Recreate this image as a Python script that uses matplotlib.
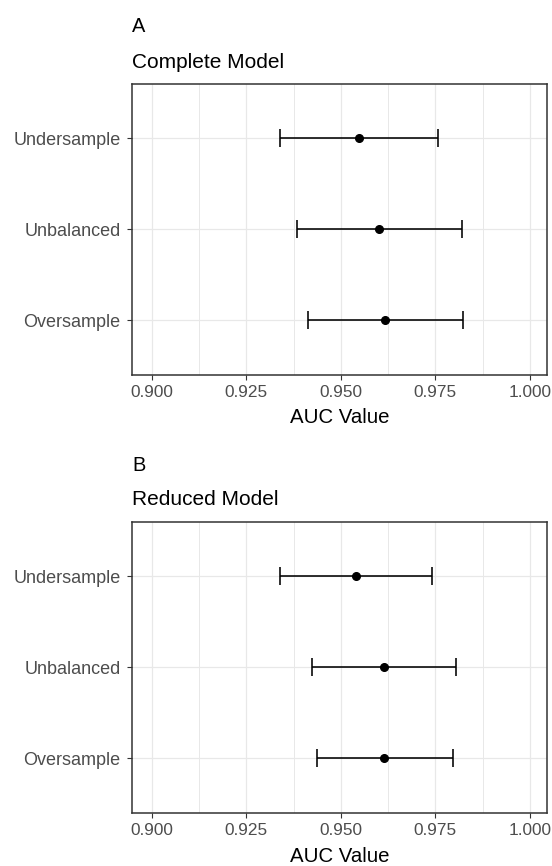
#%% libraries
import matplotlib
matplotlib.use("Agg")
import matplotlib.pyplot as plt
import numpy as np

plt.rcParams['font.family'] = ['Liberation Sans', 'DejaVu Sans']

#%% data
categories = ['Oversample', 'Unbalanced', 'Undersample']

complete_auc = [0.9618, 0.9602, 0.9547]
complete_lo = [0.9412, 0.9385, 0.9339]
complete_hi = [0.9822, 0.9819, 0.9757]

reduced_auc = [0.9614, 0.9614, 0.9540]
reduced_lo = [0.9436, 0.9425, 0.9339]
reduced_hi = [0.9796, 0.9804, 0.9742]

panels = [('A', 'Complete Model', complete_auc, complete_lo, complete_hi),
          ('B', 'Reduced Model', reduced_auc, reduced_lo, reduced_hi)]

x_ticks = [0.900, 0.925, 0.950, 0.975, 1.000]
x_minor = [0.9125, 0.9375, 0.9625, 0.9875]

#%% figure
W, H = 552, 866
fig = plt.figure(figsize=(W / 100, H / 100), dpi=100)

def box(left, top, right, bottom):
    return [left / W, 1 - bottom / H, (right - left) / W, (bottom - top) / H]

tops = [83.5, 521.5]
for (tag, title, auc, lo, hi), top in zip(panels, tops):
    bottom = top + 291.5
    ax = fig.add_axes(box(132, top, 547, bottom))
    auc = np.array(auc)
    lo = np.array(lo)
    hi = np.array(hi)
    ypos = np.arange(1, len(categories) + 1)

    ax.errorbar(auc, ypos, xerr=[auc - lo, hi - auc], fmt='o', color='black',
                ms=5.5, capsize=6.6, elinewidth=1.15, capthick=1.15, zorder=3)

    ax.set_xlim(0.8948, 1.0045)
    ax.set_ylim(0.4, 3.6)
    ax.set_xticks(x_ticks)
    ax.set_xticklabels(['%.3f' % v for v in x_ticks])
    ax.set_xticks(x_minor, minor=True)
    ax.set_yticks(ypos)
    ax.set_yticklabels(categories)

    ax.grid(which='major', color='#E8E8E8', lw=0.9, zorder=0)
    ax.grid(which='minor', axis='x', color='#E8E8E8', lw=0.7, zorder=0)
    ax.set_axisbelow(True)

    for s in ax.spines.values():
        s.set_color('#333333')
        s.set_linewidth(1.1)
    ax.tick_params(which='major', length=3.6, width=0.8, color='#333333',
                   labelcolor='#4D4D4D', labelsize=12.4, pad=3.5)
    ax.tick_params(axis='y', labelsize=13.0, pad=4.5)
    ax.tick_params(which='minor', length=0)

    ax.set_xlabel('AUC Value', fontsize=14.7, color='black')
    ax.xaxis.label.set_va('center')
    ax.xaxis.set_label_coords(0.5, -(43 / 291.5))

    fig.text(132 / W, 1 - (top - 56.5) / H, tag, fontsize=14.4, va='center', ha='left')
    fig.text(132 / W, 1 - (top - 21.5) / H, title, fontsize=15.0, va='center', ha='left')

fig.savefig('out.png', dpi=100)
